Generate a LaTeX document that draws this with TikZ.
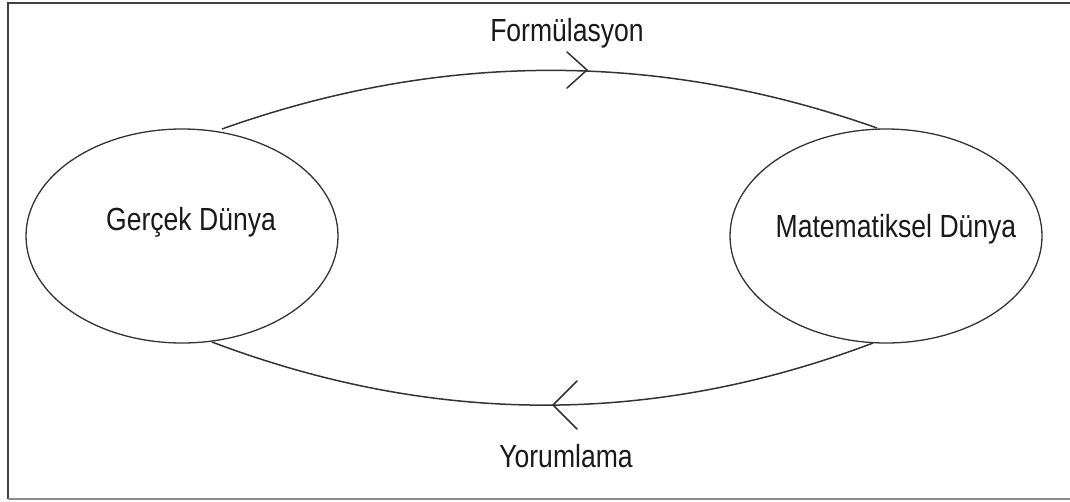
\documentclass[tikz,border=0pt]{standalone}
\usepackage{fontspec}
\setmainfont{Liberation Sans}
\newfontfamily\lblfont[FakeStretch=0.83]{Liberation Sans}
\usetikzlibrary{shapes.geometric}
\begin{document}
\begin{tikzpicture}[x=1pt,y=-1pt,
  world/.style={draw=black!80,line width=1.3pt,ellipse,minimum width=312pt,minimum height=214pt,inner sep=0pt},
  conn/.style={draw=black!80,line width=1.5pt},
  tip/.style={draw=black!80,line width=1.5pt,line cap=round},
  lbl/.style={font=\lblfont\fontsize{32}{36}\selectfont,text=black!90,inner sep=0pt}]
\useasboundingbox (0,0) rectangle (1070,501);
% frame
\draw[line width=2pt,black!75] (8,499) -- (8,3) -- (1070,3);
\draw[line width=1.2pt,black!45] (8,499) -- (1070,499);
% worlds
\node[world] (gd) at (182,236) {};
\node[world] (md) at (886,236) {};
\node[lbl] at (191,222) {Gerçek Dünya};
\node[lbl] at (896,229) {Matematiksel Dünya};
% connection points
\coordinate (gdt) at (222,129);
\coordinate (mdt) at (877,128);
\coordinate (gdb) at (212,342);
\coordinate (mdb) at (873,343);
\draw[conn] (gdt) .. controls (441,51) and (659,51) .. (mdt);
\draw[conn] (gdb) .. controls (434,426) and (654,426) .. (mdb);
% arrowheads
\coordinate (ft) at (587,70);
\coordinate (yt) at (553,405);
\draw[tip] (567,52) -- (ft) -- (567,88);
\draw[tip] (577,381) -- (yt) -- (577,429);
% labels
\node[lbl] (f) at (567,33) {Formülasyon};
\node[lbl] (y) at (566,456) {Yorumlama};
\end{tikzpicture}
\end{document}
